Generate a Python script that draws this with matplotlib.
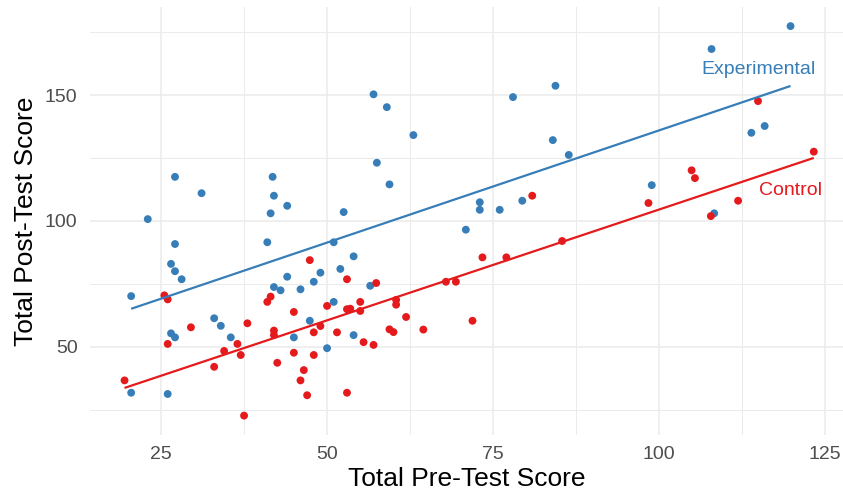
import numpy as np
import matplotlib
matplotlib.use("Agg")
import matplotlib.pyplot as plt

plt.rcParams['font.family'] = ['Liberation Sans', 'DejaVu Sans']

# Experimental group (pre, post)
exp_pre = [27.1, 31.1, 41.8, 42, 44, 41.5, 52.5, 23, 27.1, 41, 51, 26.5, 27.1, 28.1,
           52, 49, 48, 44, 20.5, 42, 43, 46, 51, 33, 34, 47.4, 26.5, 27.1, 35.5, 45,
           50, 20.5, 26, 57, 59, 63, 57.5, 59.4, 78, 84.4, 84, 86.4, 73, 73, 76, 79.4,
           70.9, 54, 56.5, 54, 107.9, 119.8, 113.9, 115.9, 98.9, 108.3]
exp_post = [117.5, 111, 117.5, 110, 106, 103, 103.5, 100.7, 90.8, 91.5, 91.5, 82.9, 80, 76.8,
            80.9, 79.4, 75.8, 77.8, 70.1, 73.7, 72.4, 72.8, 67.8, 61.3, 58.3, 60.3, 55.3, 53.7, 53.7, 53.7,
            49.4, 31.7, 31.2, 150.3, 145.2, 134.1, 123.1, 114.5, 149.2, 153.7, 132.1, 126.2, 107.4, 104.4, 104.4, 108,
            96.5, 85.9, 74.2, 54.6, 168.3, 177.4, 135, 137.7, 114.2, 103]

# Control group (pre, post)
ctl_pre = [47.4, 53, 25.5, 26, 41, 41.5, 50, 53, 45, 29.5, 38, 49, 48, 51.5, 42, 42,
           26, 36.5, 34.5, 37, 45, 48, 33, 42.5, 46.5, 46, 47, 53, 19.5, 37.5,
           80.9, 73.4, 77, 85.4, 57.4, 67.9, 69.4, 55, 53.5, 55, 60.4, 60.4, 61.9,
           59.4, 60, 64.5, 71.9, 55.5, 57, 114.9, 123.3, 104.9, 105.4, 98.4, 111.9, 107.8]
ctl_post = [84.4, 76.8, 70.4, 68.8, 67.8, 69.9, 66.2, 64.9, 63.8, 57.7, 59.3, 58.2, 55.7, 55.7, 56.4, 54.6,
            51.1, 51.1, 48.3, 46.7, 47.6, 46.7, 42, 43.6, 40.7, 36.6, 30.7, 31.7, 36.6, 22.6,
            110, 85.5, 85.5, 92, 75.3, 75.8, 75.8, 67.8, 65.1, 64.2, 68.6, 66.7, 61.8,
            56.9, 55.8, 56.8, 60.3, 51.8, 50.7, 147.6, 127.5, 120.1, 117, 107.1, 108, 101.9]

blue = '#377EB8'
red = '#E41A1C'

fig = plt.figure(figsize=(8.43, 4.98), dpi=100)
ax = fig.add_axes([90/843, 63/498, 753/843, 428/498])

for pre, post, col in [(exp_pre, exp_post, blue), (ctl_pre, ctl_post, red)]:
    ax.scatter(pre, post, s=32, color=col, edgecolors='none', zorder=3)
    b, a = np.polyfit(pre, post, 1)
    xs = np.array([min(pre), max(pre)])
    ax.plot(xs, a + b * xs, color=col, lw=1.6, zorder=4, solid_capstyle='butt')

ax.text(115, 160, 'Experimental', color=blue, fontsize=14, ha='center', va='center')
ax.text(119.8, 112, 'Control', color=red, fontsize=14, ha='center', va='center')

ax.set_xlim(14.3, 127.7)
ax.set_ylim(14.9, 185)
ax.set_xticks([25, 50, 75, 100, 125])
ax.set_yticks([50, 100, 150])
ax.set_xticks([37.5, 62.5, 87.5, 112.5], minor=True)
ax.set_yticks([25, 75, 125, 175], minor=True)
ax.grid(which='major', color='#EBEBEB', lw=1.1)
ax.grid(which='minor', color='#EBEBEB', lw=0.7)
ax.set_axisbelow(True)
for s in ax.spines.values():
    s.set_visible(False)
ax.tick_params(which='both', length=0)
ax.tick_params(axis='x', labelsize=14, labelcolor='#4D4D4D', pad=8)
ax.tick_params(axis='y', labelsize=14, labelcolor='#4D4D4D', pad=9)

ax.set_xlabel('Total Pre-Test Score', fontsize=19, labelpad=3)
ax.set_ylabel('Total Post-Test Score', fontsize=19, labelpad=5)

fig.savefig('out.png', dpi=100)
